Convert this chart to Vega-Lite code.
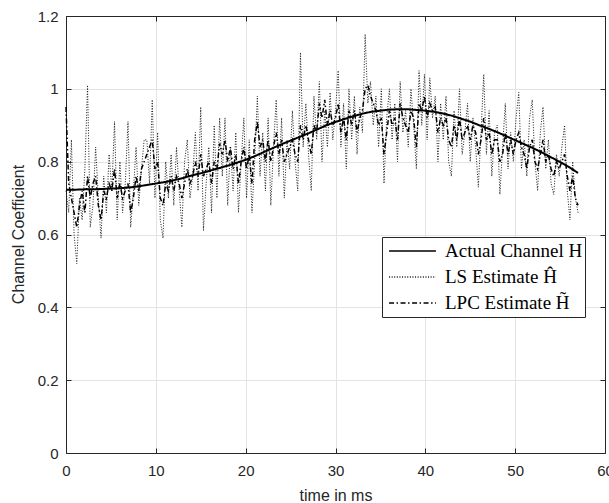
{
  "$schema": "https://vega.github.io/schema/vega-lite/v6.json",
  "width": 539,
  "height": 437,
  "autosize": {"type": "none"},
  "padding": {"left": 66, "top": 16, "right": 4, "bottom": 50},
  "background": "white",
  "config": {"view": {"stroke": "#262626", "strokeWidth": 1}, "font": "Liberation Sans"},
  "datasets": {
    "h": [
      {"t":0,"h":0.723},{"t":1,"h":0.723},{"t":2,"h":0.724},{"t":3,"h":0.724},{"t":4,"h":0.725},{"t":5,"h":0.726},{"t":6,"h":0.727},{"t":7,"h":0.729},{"t":8,"h":0.732},{"t":9,"h":0.736},
      {"t":10,"h":0.740},{"t":11,"h":0.744},{"t":12,"h":0.749},{"t":13,"h":0.755},{"t":14,"h":0.762},{"t":15,"h":0.768},{"t":16,"h":0.775},{"t":17,"h":0.782},{"t":18,"h":0.789},{"t":19,"h":0.797},
      {"t":20,"h":0.805},{"t":21,"h":0.815},{"t":22,"h":0.826},{"t":23,"h":0.837},{"t":24,"h":0.848},{"t":25,"h":0.858},{"t":26,"h":0.868},{"t":27,"h":0.878},{"t":28,"h":0.889},{"t":29,"h":0.900},
      {"t":30,"h":0.909},{"t":31,"h":0.917},{"t":32,"h":0.925},{"t":33,"h":0.932},{"t":34,"h":0.937},{"t":35,"h":0.940},{"t":36,"h":0.943},{"t":37,"h":0.944},{"t":38,"h":0.944},{"t":39,"h":0.942},
      {"t":40,"h":0.940},{"t":41,"h":0.937},{"t":42,"h":0.932},{"t":43,"h":0.926},{"t":44,"h":0.918},{"t":45,"h":0.910},{"t":46,"h":0.900},{"t":47,"h":0.891},{"t":48,"h":0.881},{"t":49,"h":0.870},
      {"t":50,"h":0.859},{"t":51,"h":0.848},{"t":52,"h":0.837},{"t":53,"h":0.825},{"t":54,"h":0.812},{"t":55,"h":0.799},{"t":56,"h":0.785},{"t":57,"h":0.769}
    ],
    "est": [
      {"t":0,"ls":0.72,"lpc":0.95},{"t":0.3,"ls":0.66,"lpc":0.74},{"t":0.6,"ls":0.86,"lpc":0.70},{"t":0.9,"ls":0.60,"lpc":0.66},{"t":1.2,"ls":0.52,"lpc":0.62},{"t":1.5,"ls":0.70,"lpc":0.68},{"t":1.8,"ls":0.64,"lpc":0.72},{"t":2.1,"ls":0.78,"lpc":0.66},{"t":2.4,"ls":1.01,"lpc":0.76},{"t":2.7,"ls":0.62,"lpc":0.70},
      {"t":3,"ls":0.68,"lpc":0.74},{"t":3.3,"ls":0.84,"lpc":0.76},{"t":3.6,"ls":0.70,"lpc":0.68},{"t":3.9,"ls":0.59,"lpc":0.64},{"t":4.2,"ls":0.76,"lpc":0.72},{"t":4.5,"ls":0.66,"lpc":0.70},{"t":4.8,"ls":0.82,"lpc":0.74},{"t":5.1,"ls":0.72,"lpc":0.72},{"t":5.4,"ls":0.91,"lpc":0.78},{"t":5.7,"ls":0.64,"lpc":0.70},
      {"t":6,"ls":0.80,"lpc":0.74},{"t":6.3,"ls":0.66,"lpc":0.70},{"t":6.6,"ls":0.74,"lpc":0.72},{"t":6.9,"ls":0.91,"lpc":0.74},{"t":7.2,"ls":0.62,"lpc":0.66},{"t":7.5,"ls":0.72,"lpc":0.70},{"t":7.8,"ls":0.84,"lpc":0.76},{"t":8.1,"ls":0.68,"lpc":0.72},{"t":8.4,"ls":0.78,"lpc":0.78},{"t":8.7,"ls":0.86,"lpc":0.80},
      {"t":9,"ls":0.86,"lpc":0.82},{"t":9.3,"ls":0.74,"lpc":0.84},{"t":9.6,"ls":0.97,"lpc":0.86},{"t":9.9,"ls":0.70,"lpc":0.78},{"t":10.2,"ls":0.88,"lpc":0.80},{"t":10.5,"ls":0.64,"lpc":0.70},{"t":10.8,"ls":0.59,"lpc":0.68},{"t":11.1,"ls":0.80,"lpc":0.74},{"t":11.4,"ls":0.70,"lpc":0.72},{"t":11.7,"ls":0.82,"lpc":0.76},
      {"t":12,"ls":0.68,"lpc":0.72},{"t":12.3,"ls":0.84,"lpc":0.76},{"t":12.6,"ls":0.72,"lpc":0.74},{"t":12.9,"ls":0.62,"lpc":0.70},{"t":13.2,"ls":0.80,"lpc":0.74},{"t":13.5,"ls":0.86,"lpc":0.78},{"t":13.8,"ls":0.70,"lpc":0.74},{"t":14.1,"ls":0.76,"lpc":0.76},{"t":14.4,"ls":0.88,"lpc":0.80},{"t":14.7,"ls":0.72,"lpc":0.76},
      {"t":15,"ls":0.95,"lpc":0.82},{"t":15.3,"ls":0.61,"lpc":0.76},{"t":15.6,"ls":0.74,"lpc":0.78},{"t":15.9,"ls":0.84,"lpc":0.80},{"t":16.2,"ls":0.66,"lpc":0.74},{"t":16.5,"ls":0.90,"lpc":0.80},{"t":16.8,"ls":0.70,"lpc":0.78},{"t":17.1,"ls":0.92,"lpc":0.85},{"t":17.4,"ls":0.76,"lpc":0.82},{"t":17.7,"ls":0.92,"lpc":0.86},
      {"t":18,"ls":0.68,"lpc":0.80},{"t":18.3,"ls":0.84,"lpc":0.84},{"t":18.6,"ls":0.72,"lpc":0.78},{"t":18.9,"ls":0.88,"lpc":0.82},{"t":19.2,"ls":0.66,"lpc":0.74},{"t":19.5,"ls":0.80,"lpc":0.80},{"t":19.8,"ls":0.92,"lpc":0.84},{"t":20.1,"ls":0.70,"lpc":0.78},{"t":20.4,"ls":0.86,"lpc":0.82},{"t":20.7,"ls":0.66,"lpc":0.74},
      {"t":21,"ls":0.80,"lpc":0.86},{"t":21.3,"ls":0.98,"lpc":0.91},{"t":21.6,"ls":0.76,"lpc":0.84},{"t":21.9,"ls":0.88,"lpc":0.86},{"t":22.2,"ls":0.72,"lpc":0.80},{"t":22.5,"ls":0.92,"lpc":0.86},{"t":22.8,"ls":0.68,"lpc":0.80},{"t":23.1,"ls":0.84,"lpc":0.84},{"t":23.4,"ls":0.97,"lpc":0.88},{"t":23.7,"ls":0.76,"lpc":0.82},
      {"t":24,"ls":0.92,"lpc":0.86},{"t":24.3,"ls":0.70,"lpc":0.80},{"t":24.6,"ls":0.86,"lpc":0.82},{"t":24.9,"ls":0.78,"lpc":0.84},{"t":25.2,"ls":0.94,"lpc":0.86},{"t":25.5,"ls":0.80,"lpc":0.82},{"t":25.8,"ls":0.72,"lpc":0.80},{"t":26.1,"ls":1.10,"lpc":0.90},{"t":26.4,"ls":0.84,"lpc":0.86},{"t":26.7,"ls":0.96,"lpc":0.90},
      {"t":27,"ls":0.82,"lpc":0.86},{"t":27.3,"ls":0.72,"lpc":0.82},{"t":27.6,"ls":0.98,"lpc":0.90},{"t":27.9,"ls":0.86,"lpc":0.88},{"t":28.2,"ls":1.02,"lpc":0.96},{"t":28.5,"ls":0.80,"lpc":0.92},{"t":28.8,"ls":0.94,"lpc":0.97},{"t":29.1,"ls":0.84,"lpc":0.90},{"t":29.4,"ls":0.99,"lpc":0.94},{"t":29.7,"ls":0.86,"lpc":0.90},
      {"t":30,"ls":0.94,"lpc":0.92},{"t":30.3,"ls":1.05,"lpc":0.96},{"t":30.6,"ls":0.84,"lpc":0.88},{"t":30.9,"ls":0.96,"lpc":0.92},{"t":31.2,"ls":0.78,"lpc":0.86},{"t":31.5,"ls":1.00,"lpc":0.94},{"t":31.8,"ls":0.86,"lpc":0.90},{"t":32.1,"ls":0.98,"lpc":0.94},{"t":32.4,"ls":0.82,"lpc":0.88},{"t":32.7,"ls":0.95,"lpc":0.92},
      {"t":33,"ls":0.88,"lpc":0.94},{"t":33.3,"ls":1.15,"lpc":1.00},{"t":33.6,"ls":0.96,"lpc":1.01},{"t":33.9,"ls":1.02,"lpc":0.98},{"t":34.2,"ls":0.90,"lpc":0.96},{"t":34.5,"ls":0.98,"lpc":0.94},{"t":34.8,"ls":0.84,"lpc":0.90},{"t":35.1,"ls":1.00,"lpc":0.92},{"t":35.4,"ls":0.74,"lpc":0.82},{"t":35.7,"ls":0.92,"lpc":0.88},
      {"t":36,"ls":1.00,"lpc":0.94},{"t":36.3,"ls":0.86,"lpc":0.90},{"t":36.6,"ls":0.96,"lpc":0.92},{"t":36.9,"ls":0.80,"lpc":0.86},{"t":37.2,"ls":1.02,"lpc":0.96},{"t":37.5,"ls":0.88,"lpc":0.92},{"t":37.8,"ls":0.94,"lpc":0.90},{"t":38.1,"ls":0.84,"lpc":0.88},{"t":38.4,"ls":1.00,"lpc":0.94},{"t":38.7,"ls":0.90,"lpc":0.92},
      {"t":39,"ls":0.78,"lpc":0.84},{"t":39.3,"ls":1.05,"lpc":0.96},{"t":39.6,"ls":0.90,"lpc":0.94},{"t":39.9,"ls":1.04,"lpc":0.98},{"t":40.2,"ls":0.86,"lpc":0.92},{"t":40.5,"ls":1.03,"lpc":0.96},{"t":40.8,"ls":0.92,"lpc":0.94},{"t":41.1,"ls":0.98,"lpc":0.95},{"t":41.4,"ls":0.80,"lpc":0.88},{"t":41.7,"ls":0.96,"lpc":0.92},
      {"t":42,"ls":0.86,"lpc":0.90},{"t":42.3,"ls":0.98,"lpc":0.92},{"t":42.6,"ls":0.80,"lpc":0.86},{"t":42.9,"ls":0.76,"lpc":0.84},{"t":43.2,"ls":0.94,"lpc":0.90},{"t":43.5,"ls":0.84,"lpc":0.86},{"t":43.8,"ls":1.00,"lpc":0.92},{"t":44.1,"ls":0.82,"lpc":0.86},{"t":44.4,"ls":0.88,"lpc":0.88},{"t":44.7,"ls":0.96,"lpc":0.90},
      {"t":45,"ls":0.80,"lpc":0.86},{"t":45.3,"ls":0.92,"lpc":0.90},{"t":45.6,"ls":0.84,"lpc":0.88},{"t":45.9,"ls":0.73,"lpc":0.82},{"t":46.2,"ls":0.88,"lpc":0.86},{"t":46.5,"ls":1.04,"lpc":0.92},{"t":46.8,"ls":0.82,"lpc":0.86},{"t":47.1,"ls":0.94,"lpc":0.88},{"t":47.4,"ls":0.76,"lpc":0.82},{"t":47.7,"ls":0.88,"lpc":0.86},
      {"t":48,"ls":0.90,"lpc":0.86},{"t":48.3,"ls":0.71,"lpc":0.80},{"t":48.6,"ls":0.84,"lpc":0.82},{"t":48.9,"ls":0.96,"lpc":0.88},{"t":49.2,"ls":0.78,"lpc":0.82},{"t":49.5,"ls":0.88,"lpc":0.86},{"t":49.8,"ls":0.80,"lpc":0.82},{"t":50.1,"ls":0.92,"lpc":0.86},{"t":50.4,"ls":0.99,"lpc":0.88},{"t":50.7,"ls":0.78,"lpc":0.84},
      {"t":51,"ls":0.86,"lpc":0.82},{"t":51.3,"ls":0.76,"lpc":0.78},{"t":51.6,"ls":0.92,"lpc":0.84},{"t":51.9,"ls":0.97,"lpc":0.86},{"t":52.2,"ls":0.80,"lpc":0.80},{"t":52.5,"ls":0.72,"lpc":0.78},{"t":52.8,"ls":0.88,"lpc":0.82},{"t":53.1,"ls":0.95,"lpc":0.86},{"t":53.4,"ls":0.78,"lpc":0.80},{"t":53.7,"ls":0.86,"lpc":0.82},
      {"t":54,"ls":0.74,"lpc":0.78},{"t":54.3,"ls":0.71,"lpc":0.76},{"t":54.6,"ls":0.82,"lpc":0.80},{"t":54.9,"ls":0.76,"lpc":0.78},{"t":55.2,"ls":0.84,"lpc":0.80},{"t":55.5,"ls":0.90,"lpc":0.82},{"t":55.8,"ls":0.72,"lpc":0.76},{"t":56.1,"ls":0.64,"lpc":0.72},{"t":56.4,"ls":0.80,"lpc":0.76},{"t":56.7,"ls":0.70,"lpc":0.70},
      {"t":57,"ls":0.66,"lpc":0.68}
    ]
  },
  "layer": [
    {
      "data": {"name": "est"},
      "mark": {"type": "line", "strokeWidth": 1},
      "encoding": {
        "x": {"field": "t", "type": "quantitative", "scale": {"domain": [0, 60], "nice": false}, "axis": null},
        "y": {"field": "ls", "type": "quantitative", "scale": {"domain": [0, 1.2], "nice": false}, "axis": null},
        "color": {"datum": "LS Estimate Ĥ"},
        "strokeDash": {"datum": "LS Estimate Ĥ"}
      }
    },
    {
      "data": {"name": "est"},
      "mark": {"type": "line", "strokeWidth": 1.5},
      "encoding": {
        "x": {"field": "t", "type": "quantitative", "axis": {"orient": "top", "values": [0,10,20,30,40,50,60], "labels": false, "title": null, "grid": false, "tickSize": -5, "tickColor": "#262626", "domainColor": "#262626"}},
        "y": {"field": "lpc", "type": "quantitative", "axis": {"orient": "right", "values": [0,0.2,0.4,0.6,0.8,1,1.2], "labels": false, "title": null, "grid": false, "tickSize": -5, "tickColor": "#262626", "domainColor": "#262626"}},
        "color": {"datum": "LPC Estimate H̃"},
        "strokeDash": {"datum": "LPC Estimate H̃"}
      }
    },
    {
      "data": {"name": "h"},
      "mark": {"type": "line", "strokeWidth": 2},
      "encoding": {
        "x": {"field": "t", "type": "quantitative", "axis": {"orient": "bottom", "values": [0,10,20,30,40,50,60], "title": "time in ms", "grid": true, "gridColor": "#e3e3e3", "tickSize": -5, "tickColor": "#262626", "domainColor": "#262626", "labelFontSize": 15, "labelColor": "#262626", "labelPadding": 15, "labelFlush": false, "titleFontSize": 16, "titleFontWeight": "normal", "titleColor": "#262626", "titleY": 42, "titleBaseline": "middle"}},
        "y": {"field": "h", "type": "quantitative", "axis": {"orient": "left", "values": [0,0.2,0.4,0.6,0.8,1,1.2], "format": "~g", "title": "Channel Coefficient", "grid": true, "gridColor": "#e3e3e3", "tickSize": -5, "tickColor": "#262626", "domainColor": "#262626", "labelFontSize": 15, "labelColor": "#262626", "labelPadding": 13, "labelFlush": false, "titleFontSize": 16, "titleFontWeight": "normal", "titleColor": "#262626", "titleX": -48, "titleY": 218, "titleAngle": -90, "titleAlign": "center", "titleBaseline": "middle"}},
        "color": {
          "datum": "Actual Channel H",
          "scale": {"domain": ["Actual Channel H", "LS Estimate Ĥ", "LPC Estimate H̃"], "range": ["#000000", "#1a1a1a", "#000000"]},
          "legend": {"orient": "none", "legendX": 316, "legendY": 221, "title": null, "symbolType": "stroke", "symbolSize": 2200, "symbolStrokeWidth": 1.5, "symbolOffset": 4, "clipHeight": 24, "labelFont": "Liberation Serif", "labelFontSize": 19, "labelColor": "#000000", "strokeColor": "#262626", "fillColor": "white", "padding": 2, "rowPadding": 2, "labelOffset": 8}
        },
        "strokeDash": {
          "datum": "Actual Channel H",
          "scale": {"domain": ["Actual Channel H", "LS Estimate Ĥ", "LPC Estimate H̃"], "range": [[1, 0], [1, 1.6], [5, 2.5, 1.5, 2.5]]},
          "legend": {"orient": "none", "legendX": 316, "legendY": 221, "title": null, "symbolType": "stroke", "symbolSize": 2200, "symbolStrokeWidth": 1.5, "symbolOffset": 4, "clipHeight": 24, "labelFont": "Liberation Serif", "labelFontSize": 19, "labelColor": "#000000", "strokeColor": "#262626", "fillColor": "white", "padding": 2, "rowPadding": 2, "labelOffset": 8}
        }
      }
    }
  ],
  "resolve": {"axis": {"x": "independent", "y": "independent"}}
}
